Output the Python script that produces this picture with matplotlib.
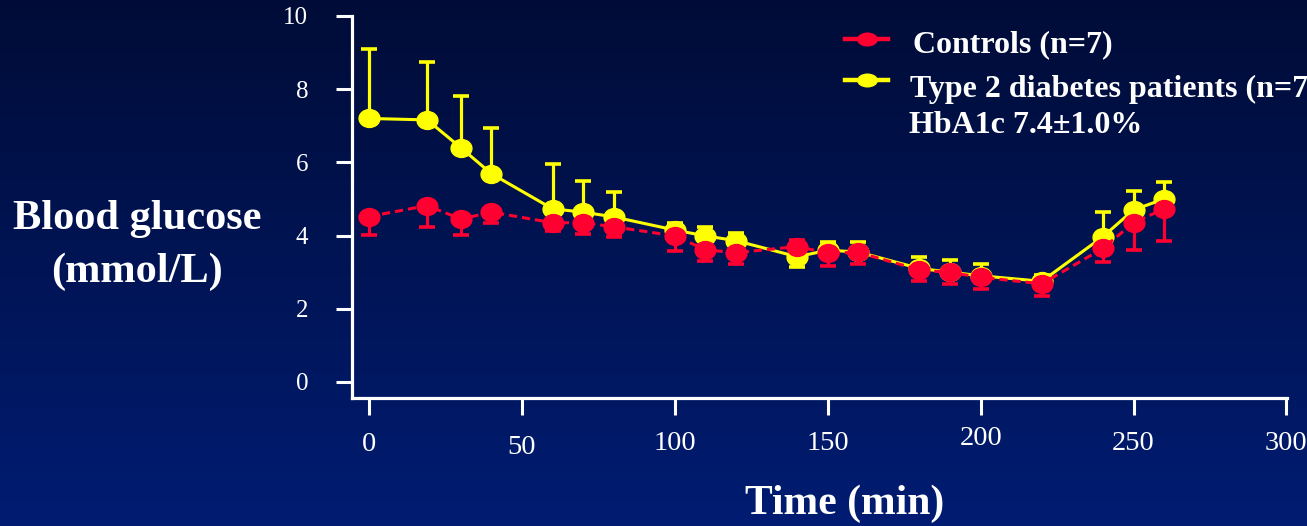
import numpy as np
import matplotlib
matplotlib.use("Agg")
import matplotlib.pyplot as plt
from matplotlib.colors import LinearSegmentedColormap
from matplotlib.lines import Line2D
from matplotlib.path import Path
from matplotlib.transforms import Affine2D, ScaledTranslation

# ---- data -------------------------------------------------------------
times = [0, 19, 30, 40, 60, 70, 80, 100, 110, 120, 140, 150, 160,
         180, 190, 200, 220, 240, 250, 260]

controls_mean = [4.52, 4.82, 4.45, 4.64, 4.35, 4.35, 4.24, 3.99, 3.61, 3.53,
                 3.70, 3.52, 3.54, 3.06, 2.99, 2.86, 2.68, 3.65, 4.35, 4.73]
controls_sem = [0.50, 0.59, 0.43, 0.30, 0.22, 0.30, 0.29, 0.40, 0.31, 0.32,
                0.18, 0.34, 0.33, 0.29, 0.32, 0.32, 0.33, 0.36, 0.74, 0.87]
# +1: bar drawn above the mean, -1: below
controls_side = [-1] * 10 + [1] + [-1] * 9

t2d_mean = [7.20, 7.16, 6.40, 5.69, 4.73, 4.64, 4.51, 4.15, 3.99, 3.86,
            3.42, 3.60, 3.55, 3.10, 3.00, 2.90, 2.75, 3.97, 4.70, 5.00]
t2d_sem = [1.90, 1.57, 1.40, 1.26, 1.22, 0.85, 0.67, 0.19, 0.25, 0.20,
           0.29, 0.21, 0.26, 0.30, 0.33, 0.32, 0.17, 0.66, 0.53, 0.45]
t2d_side = [1] * 10 + [-1] + [1] * 9

x_ticks = [0, 50, 100, 150, 200, 250, 300]
y_ticks = [0, 2, 4, 6, 8, 10]

label_controls = "Controls (n=7)"
label_t2d = "Type 2 diabetes patients (n=7)"
label_hba1c = "HbA1c 7.4\u00b11.0%"

# ---- style ------------------------------------------------------------
RED = "#ff0030"
YELLOW = "#ffff00"
WHITE = "#ffffff"
SERIF = ["Liberation Serif", "DejaVu Serif"]
# small vertical nudges (pixels, + = down) of the time tick labels
x_label_nudge = [1, 4, 0, 0, -5, 0, 0]

W, H = 1307, 526
fig = plt.figure(figsize=(W / 100, H / 100), dpi=100)

# vertical navy gradient behind everything
bg = fig.add_axes([0, 0, 1, 1], zorder=-10)
grad = np.linspace(0, 1, 256).reshape(-1, 1)
cmap = LinearSegmentedColormap.from_list("navy", ["#001c72", "#000c37"])
bg.imshow(grad, aspect="auto", cmap=cmap, extent=[0, 1, 0, 1], origin="lower")
bg.set_axis_off()

ax = fig.add_axes([352 / W, 128 / H, 935 / W, 382 / H])
ax.patch.set_alpha(0)

# slightly flattened circle marker
ell = Path.unit_circle().transformed(Affine2D().scale(1.0, 0.86))
ell_flat = Path.unit_circle().transformed(Affine2D().scale(1.0, 0.65))


def split_err(sem, side):
    lo = [s if d < 0 else 0 for s, d in zip(sem, side)]
    hi = [s if d > 0 else 0 for s, d in zip(sem, side)]
    return [lo, hi]


err_kw = dict(elinewidth=2.3, capsize=5.8, capthick=2.6)

# diabetes series (underneath)
ax.errorbar(times, t2d_mean, yerr=split_err(t2d_sem, t2d_side),
            fmt="none", ecolor=YELLOW, zorder=2, **err_kw)
ax.plot(times, t2d_mean, color=YELLOW, lw=2.2, marker=ell, ms=15,
        mec=YELLOW, mfc=YELLOW, zorder=3)

# controls series (on top)
ax.errorbar(times, controls_mean, yerr=split_err(controls_sem, controls_side),
            fmt="none", ecolor=RED, zorder=4, **err_kw)
ax.plot(times, controls_mean, color=RED, lw=2.2, ls=(0, (2.7, 1.6)),
        marker=ell, ms=15, mec=RED, mfc=RED, zorder=5)

ax.set_xlim(-5.6, 300.2)
ax.set_ylim(-0.44, 10)
ax.set_xticks(x_ticks)
ax.set_yticks(y_ticks)

for side in ("top", "right"):
    ax.spines[side].set_visible(False)
for side in ("left", "bottom"):
    ax.spines[side].set_color(WHITE)
    ax.spines[side].set_linewidth(2.3)

ax.tick_params(axis="y", direction="out", length=11.5, width=2.2,
               color=WHITE, labelcolor=WHITE, pad=20, labelsize=18)
ax.tick_params(axis="x", direction="out", length=12, width=2.2,
               color=WHITE, labelcolor=WHITE, pad=12, labelsize=20.5)
for lab in ax.get_yticklabels():
    lab.set_family(SERIF)
for lab, dy in zip(ax.get_xticklabels(), x_label_nudge):
    lab.set_family(SERIF)
    lab.set_transform(lab.get_transform()
                      + ScaledTranslation(0, -dy / 100, fig.dpi_scale_trans))

# axis titles
fig.text(137 / W, 1 - 219 / H, "Blood glucose", color=WHITE, family=SERIF,
         weight="bold", fontsize=30.5, ha="center", va="center")
fig.text(137 / W, 1 - 272 / H, "(mmol/L)", color=WHITE, family=SERIF,
         weight="bold", fontsize=30.5, ha="center", va="center")
fig.text(845 / W, 1 - 504 / H, "Time (min)", color=WHITE, family=SERIF,
         weight="bold", fontsize=30, ha="center", va="center")

# key
for y_px, col in ((39, RED), (80, YELLOW)):
    fig.add_artist(Line2D([845 / W, 888 / W], [1 - y_px / H, 1 - y_px / H],
                          color=col, lw=3.2, marker=None))
    fig.add_artist(Line2D([867 / W], [1 - y_px / H], color=col, ls="none",
                          marker=ell_flat, ms=14, mfc=col, mec=col))

fig.text(913 / W, 1 - 52 / H, label_controls, color=WHITE, family=SERIF,
         weight="bold", fontsize=23, ha="left", va="baseline")
fig.text(910 / W, 1 - 97 / H, label_t2d, color=WHITE, family=SERIF,
         weight="bold", fontsize=23, ha="left", va="baseline")
fig.text(909 / W, 1 - 133 / H, label_hba1c, color=WHITE, family=SERIF,
         weight="bold", fontsize=23, ha="left", va="baseline")

fig.savefig("out.png", dpi=100)
